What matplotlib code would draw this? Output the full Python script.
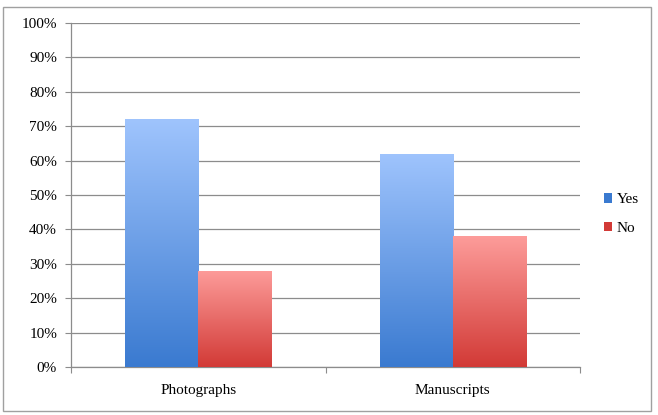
import matplotlib
matplotlib.use("Agg")
import matplotlib.pyplot as plt
import numpy as np
from matplotlib.colors import LinearSegmentedColormap
from matplotlib.patches import Rectangle
from matplotlib.ticker import FixedLocator, PercentFormatter

categories = ["Photographs", "Manuscripts"]
series_names = ["Yes", "No"]
yes_values = [72, 62]
no_values = [28, 38]
y_ticks = [0, 10, 20, 30, 40, 50, 60, 70, 80, 90, 100]

plt.rcParams['font.family'] = ['Liberation Serif', 'DejaVu Serif']

fig = plt.figure(figsize=(6.58, 4.15), dpi=100)
fig.patch.set_facecolor('white')
# outer frame
fig.add_artist(Rectangle((3/658, 1 - 411/415), 648/658, 404/415, transform=fig.transFigure,
                         fill=False, edgecolor='#a0a0a0', linewidth=1.0))

ax = fig.add_axes([71/658, 1 - 367/415, 509/658, 344/415])
ax.set_xlim(-0.5, 1.5)
ax.set_ylim(0, 100)

x = np.arange(len(categories))
w = 0.287
grad_specs = [
    ("#9fc4fd", "#3a7ad0"),
    ("#fd9c9a", "#d23a36"),
]
all_vals = [yes_values, no_values]
for si, (vals, (ctop, cbot)) in enumerate(zip(all_vals, grad_specs)):
    offs = (si - 0.5) * w
    bars = ax.bar(x + offs, vals, width=w, color=cbot, edgecolor='none', zorder=3,
                  label=series_names[si])
    cmap = LinearSegmentedColormap.from_list("g", [cbot, ctop])
    grad = np.linspace(0, 1, 256).reshape(-1, 1)
    for b in bars:
        x0, y0 = b.get_x(), b.get_y()
        im = ax.imshow(grad, cmap=cmap, aspect='auto', origin='lower',
                       extent=[x0, x0 + b.get_width(), y0, y0 + b.get_height()], zorder=4)
        im.set_clip_path(b)
ax.set_xlim(-0.5, 1.5)
ax.set_ylim(0, 100)

ax.yaxis.set_major_locator(FixedLocator(y_ticks))
ax.yaxis.set_major_formatter(PercentFormatter(decimals=0))
ax.grid(axis='y', color='#8c8c8c', linewidth=0.9, zorder=0)
ax.set_axisbelow(True)

ax.set_xticks([-0.5, 0.5, 1.5], minor=False)
ax.set_xticklabels([])
ax.set_xticks(x, minor=True)
ax.set_xticklabels(categories, minor=True, fontsize=11)
ax.tick_params(axis='x', which='minor', length=0, pad=12)
ax.tick_params(axis='x', which='major', length=4, color='#8c8c8c', direction='out')
ax.tick_params(axis='y', length=4, color='#8c8c8c', labelsize=11, pad=6)

for s in ['top', 'right']:
    ax.spines[s].set_visible(False)
for s in ['left', 'bottom']:
    ax.spines[s].set_color('#8c8c8c')
    ax.spines[s].set_linewidth(0.9)

handles, labels = ax.get_legend_handles_labels()
leg = fig.legend(handles, labels, loc='center left', bbox_to_anchor=(590/658, 1 - 214/415),
                 frameon=False, fontsize=11, handlelength=0.55, handleheight=0.55,
                 handletextpad=0.3, labelspacing=1.0)

fig.savefig("out.png", dpi=100, facecolor='white')
